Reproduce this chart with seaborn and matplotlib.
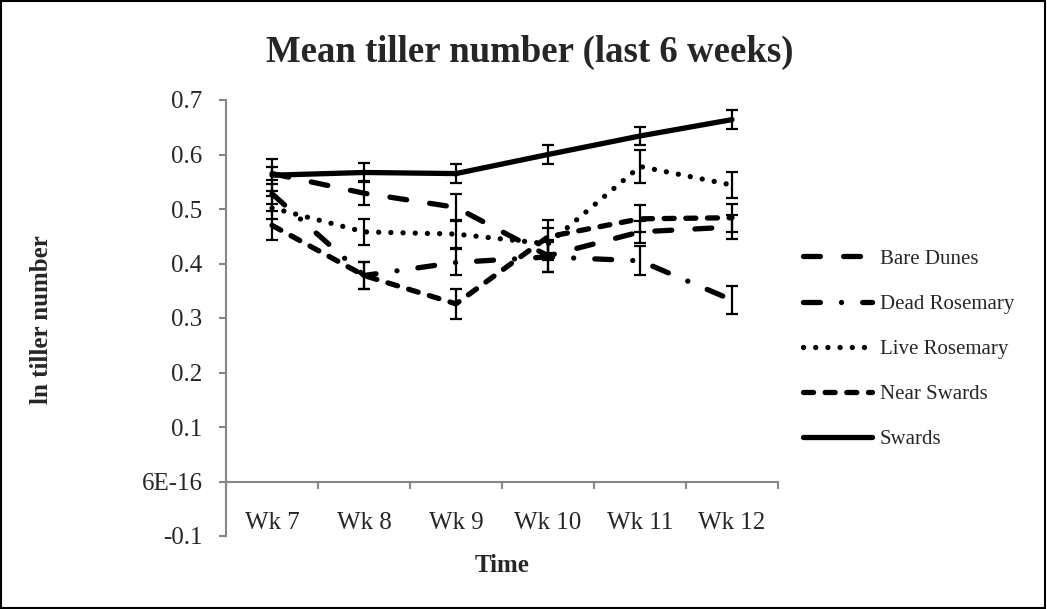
import numpy as np
import pandas as pd
import matplotlib
matplotlib.use("Agg")
import matplotlib.pyplot as plt
import seaborn as sns
from matplotlib.patches import Rectangle
from matplotlib.ticker import FixedLocator, FixedFormatter

# ---------------- data ----------------
weeks = ["Wk 7", "Wk 8", "Wk 9", "Wk 10", "Wk 11", "Wk 12"]
series_names = ["Bare Dunes", "Dead Rosemary", "Live Rosemary", "Near Swards", "Swards"]

bare_dunes = [0.565, 0.529, 0.503, 0.414, 0.458, 0.467]
bare_dunes_err = [0.012, 0.022, 0.025, 0.030, 0.020, 0.022]
dead_rosemary = [0.528, 0.378, 0.402, 0.412, 0.405, 0.333]
dead_rosemary_err = [0.018, 0.025, 0.024, 0.028, 0.027, 0.026]
live_rosemary = [0.502, 0.458, 0.454, 0.436, 0.578, 0.544]
live_rosemary_err = [0.021, 0.024, 0.025, 0.030, 0.030, 0.024]
near_swards = [0.470, 0.378, 0.326, 0.449, 0.482, 0.484]
near_swards_err = [0.026, 0.025, 0.027, 0.030, 0.025, 0.026]
swards = [0.562, 0.567, 0.565, 0.600, 0.634, 0.664]
swards_err = [0.029, 0.018, 0.017, 0.017, 0.016, 0.018]

y_ticks = [-0.1, 0.0, 0.1, 0.2, 0.3, 0.4, 0.5, 0.6, 0.7]
y_tick_labels = ["-0.1", "6E-16", "0.1", "0.2", "0.3", "0.4", "0.5", "0.6", "0.7"]

title = "Mean tiller number (last 6 weeks)"
x_label = "Time"
y_label = "ln tiller number"

# ---------------- styling ----------------
sns.set_style("white")
plt.rcParams["font.family"] = ["Liberation Serif", "DejaVu Serif"]
plt.rcParams["lines.dash_capstyle"] = "round"
plt.rcParams["lines.solid_capstyle"] = "round"

values = [bare_dunes, dead_rosemary, live_rosemary, near_swards, swards]
errors = [bare_dunes_err, dead_rosemary_err, live_rosemary_err, near_swards_err, swards_err]

rows = []
for name, vals, errs in zip(series_names, values, errors):
    for w, v, e in zip(weeks, vals, errs):
        rows.append({"week": w, "value": v, "err": e, "series": name})
df = pd.DataFrame(rows)

dashes = {
    "Bare Dunes": (3.2, 4.4),
    "Dead Rosemary": (3.2, 4.0, 0.01, 4.0),
    "Live Rosemary": (0.01, 2.3),
    "Near Swards": (1.9, 2.2),
    "Swards": "",
}

fig = plt.figure(figsize=(10.47, 6.09), dpi=100)
ax = fig.add_axes([226 / 1047, 1 - 536 / 609, (778 - 226) / 1047, (536 - 100) / 609])

lw = 3.8
sns.lineplot(data=df, x="week", y="value", hue="series", style="series",
             hue_order=series_names, style_order=series_names,
             palette=["black"] * 5, dashes=dashes, linewidth=lw,
             sort=False, legend=False, ax=ax, errorbar=None)

data_lines = list(ax.lines)

for name, vals, errs in zip(series_names, values, errors):
    ax.errorbar(weeks, vals, yerr=errs, fmt="none", ecolor="black",
                elinewidth=1.6, capsize=4, capthick=1.6, zorder=5)

ax.set_xlim(-0.5, 5.5)
ax.set_ylim(-0.1, 0.7)

axis_grey = "#868686"
for s in ["top", "right"]:
    ax.spines[s].set_visible(False)
ax.spines["left"].set_color(axis_grey)
ax.spines["left"].set_linewidth(1.5)
ax.spines["bottom"].set_color(axis_grey)
ax.spines["bottom"].set_linewidth(1.5)
ax.spines["bottom"].set_position(("data", 0))

ax.yaxis.set_major_locator(FixedLocator(y_ticks))
ax.yaxis.set_major_formatter(FixedFormatter(y_tick_labels))
ax.tick_params(axis="y", which="major", direction="out", length=5, width=1.5,
               color=axis_grey, labelsize=18, pad=12, left=True)

ax.xaxis.set_minor_locator(FixedLocator(np.arange(-0.5, 6, 1.0)))
ax.tick_params(axis="x", which="minor", direction="out", length=5, width=1.5,
               color=axis_grey, bottom=True)
ax.tick_params(axis="x", which="major", length=0, labelsize=18, pad=22, bottom=True)

ax.set_xlabel("")
ax.set_ylabel("")

fig.text(530 / 1047, 1 - 52 / 609, title, ha="center", va="center",
         fontsize=26.5, fontweight="bold")
fig.text(502 / 1047, 1 - 566 / 609, x_label, ha="center", va="center",
         fontsize=18, fontweight="bold")
fig.text(42 / 1047, 1 - 320 / 609, y_label, ha="center", va="center",
         rotation=90, fontsize=18, fontweight="bold")

fig.legend(data_lines, series_names, loc="upper left",
           bbox_to_anchor=(803 / 1047, 1 - 249 / 609),
           frameon=False, fontsize=15, handlelength=3.3,
           handletextpad=0.4, labelspacing=1.23, borderpad=0,
           borderaxespad=0)

fig.patches.append(Rectangle((0.001, 0.002), 0.997, 0.996, transform=fig.transFigure,
                             fill=False, edgecolor="black", linewidth=1.5))

fig.savefig("out.png", dpi=100, facecolor="white")
